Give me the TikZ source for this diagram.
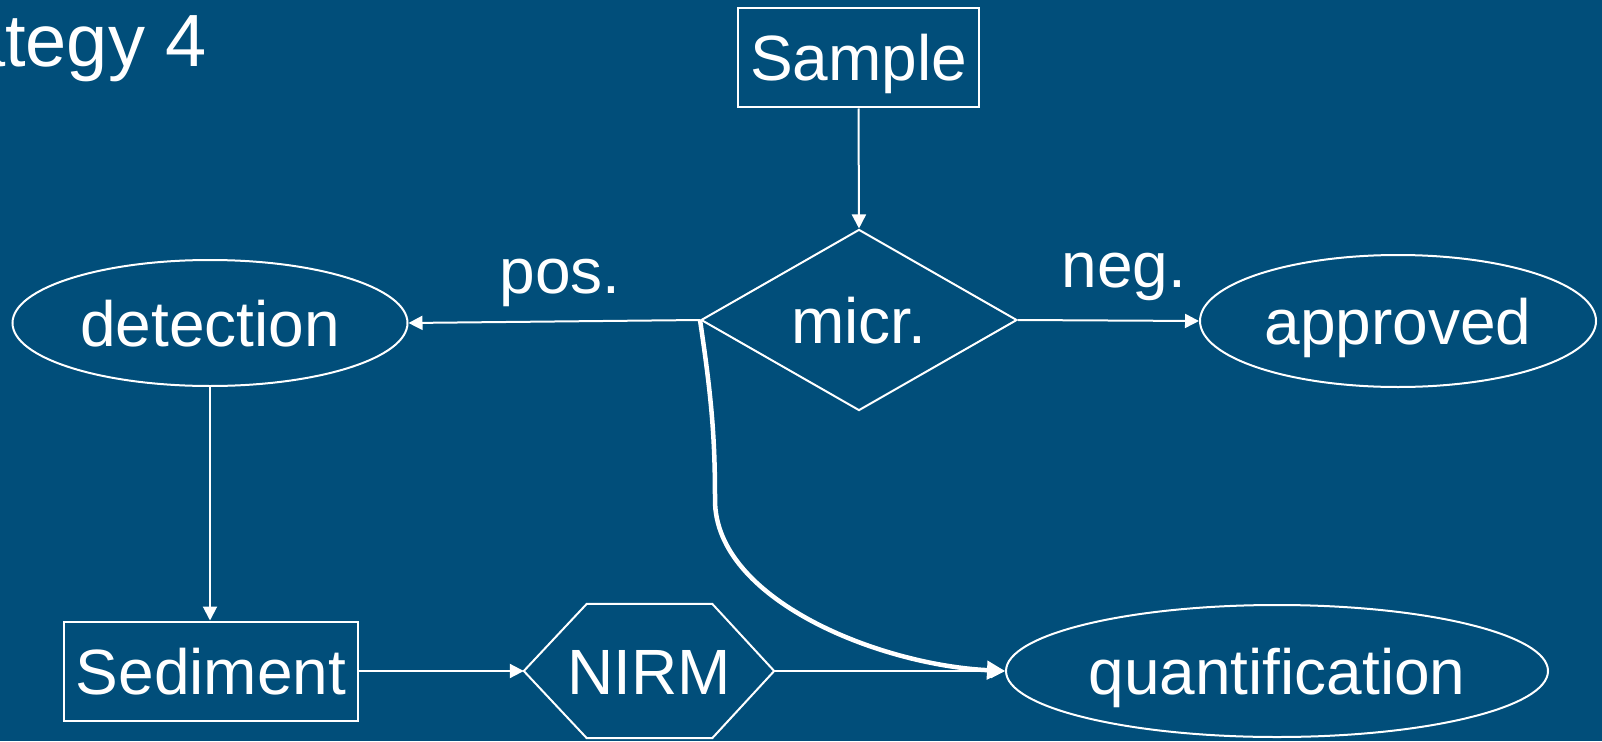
\documentclass[tikz,border=0pt]{standalone}
\usepackage{fontspec}
\setmainfont{Liberation Sans}
\usetikzlibrary{shapes.geometric,arrows.meta}
\definecolor{bg}{RGB}{1,78,122}
\begin{document}
\begin{tikzpicture}[x=1pt,y=-1pt,
  every node/.style={text=white, font=\fontsize{64}{64}\selectfont, inner sep=0pt, text height=46pt, text depth=0pt},
  boxnode/.style={rectangle, draw=white, line width=2pt},
  ell/.style={ellipse, draw=white, line width=2pt},
  dec/.style={diamond, draw=white, line width=2pt},
  conn/.style={white, line width=2pt, -{Triangle[length=14pt,width=14pt]}},
  thickconn/.style={white, line width=4.5pt, -{Triangle[length=18pt,width=18pt]}}]
\fill[bg] (0,0) rectangle (1602,741);
\useasboundingbox (0,0) rectangle (1602,741);
\node[anchor=base east, font=\fontsize{74}{74}\selectfont] (title) at (207,67) {Strategy 4};
\node[boxnode, minimum width=241pt, minimum height=99pt] (sample) at (858.5,58) {Sample};
\node[dec, minimum width=316pt, minimum height=174pt] (micr) at (859,320) {micr.};
\node[ell, minimum width=395pt, minimum height=126pt] (det) at (210,323) {detection};
\node[ell, minimum width=396pt, minimum height=132pt] (appr) at (1398,321) {approved};
\node[boxnode, minimum width=294pt, minimum height=99pt] (sed) at (211,671) {Sediment};
\node[minimum width=250pt, minimum height=134pt] (nirm) at (649,671) {NIRM};
\draw[white, line width=2pt] (nirm.west) -- ([xshift=63pt]nirm.north west) -- ([xshift=-62pt]nirm.north east) -- (nirm.east) -- ([xshift=-62pt]nirm.south east) -- ([xshift=63pt]nirm.south west) -- cycle;
\node[ell, minimum width=542pt, minimum height=132pt] (quant) at (1277,671) {quantification};
\node[anchor=base] (pos) at (560,293) {pos.};
\node[anchor=base] (neg) at (1124,287) {neg.};
\draw[conn] (sample.south) -- (micr.north);
\draw[conn] (micr.west) -- (det.east);
\draw[conn] (micr.east) -- (appr.west);
\draw[conn] (det.south) -- (det.south |- sed.north);
\draw[conn] (sed.east) -- (nirm.west);
\draw[conn] (nirm.east) -- (quant.west);
\draw[thickconn] (micr.west) .. controls (712,400) and (715,440) .. (715,500) .. controls (715,600) and (880,665) .. (quant.west);
\end{tikzpicture}
\end{document}
